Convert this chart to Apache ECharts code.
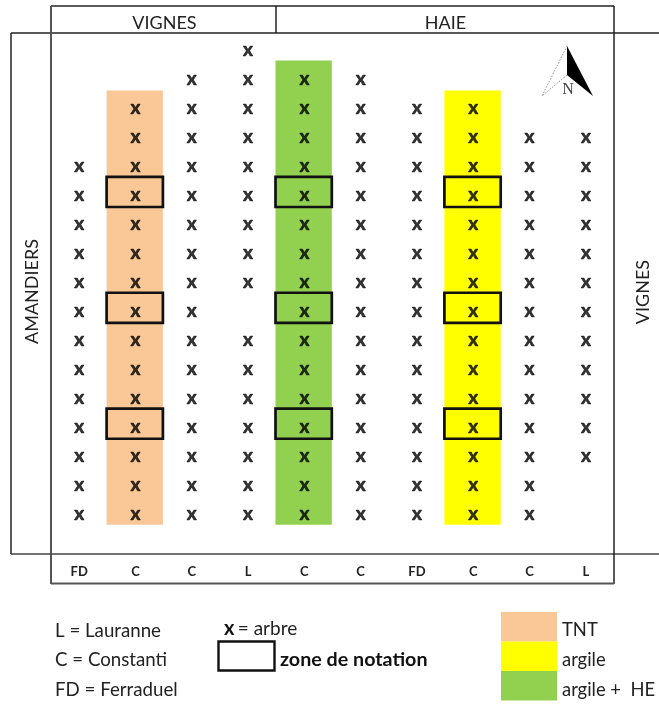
<!DOCTYPE html>
<html><head><meta charset="utf-8">
<style>html,body{margin:0;padding:0;background:#fff}#c{width:659px;height:704px}</style>
<script src="https://cdn.jsdelivr.net/npm/echarts@6/dist/echarts.min.js"></script>
</head><body><div id="c"></div>
<script>
const varieties = ['FD','C','C','L','C','C','FD','C','C','L'];
const treeRows = [
  [4,5,6,7,8,9,10,11,12,13,14,15,16],
  [2,3,4,5,6,7,8,9,10,11,12,13,14,15,16],
  [1,2,3,4,5,6,7,8,9,10,11,12,13,14,15,16],
  [0,1,2,3,4,5,6,7,8,10,11,12,13,14,15,16],
  [1,2,3,4,5,6,7,8,9,10,11,12,13,14,15,16],
  [1,2,3,4,5,6,7,8,9,10,11,12,13,14,15,16],
  [2,3,4,5,6,7,8,9,10,11,12,13,14,15,16],
  [2,3,4,5,6,7,8,9,10,11,12,13,14,15,16],
  [3,4,5,6,7,8,9,10,11,12,13,14,15,16],
  [3,4,5,6,7,8,9,10,11,12,13,14]
];
// treatment bands: column, first row edge, last row edge
const treatmentColumns = [1,4,7];
const treatmentStart = [1.33,0.29,1.33];
const treatmentEnd = [16.32,16.32,16.32];
const treatmentColors = ['#FAC896','#92D050','#FFFF00'];
const zoneRows = [5,9,13];
const sideNames = ['VIGNES','HAIE'];
const legendVarieties = ['L = Lauranne','C = Constanti','FD = Ferraduel'];
const legendTreatments = ['TNT','argile','argile +  HE'];
const legendColors = ['#FAC896','#FFFF00','#92D050'];

const font = 'Lato';
const treeData = [];
treeRows.forEach((rows,c)=>rows.forEach(r=>treeData.push([c,r])));
const bandData = treatmentColumns.map((c,i)=>[c,treatmentStart[i],treatmentEnd[i],treatmentColors[i]]);
const zoneData = [];
treatmentColumns.forEach(c=>zoneRows.forEach(r=>zoneData.push([c,r-0.69,r+0.35])));

const rectFor=(api)=>{
  const a=api.coord([api.value(0),api.value(1)]), b=api.coord([api.value(0),api.value(2)]);
  const w=api.size([1,0])[0];
  return {x:a[0]-w/2-0.7,y:a[1],width:w,height:b[1]-a[1]};
};
const line=(x1,y1,x2,y2,stroke,lw)=>({type:'line',silent:true,z:20,shape:{x1,y1,x2,y2},style:{stroke:stroke||'#222',lineWidth:lw||1.5}});
const text=(x,y,t,o)=>({type:'text',silent:true,z:21,x,y,rotation:(o&&o.rot)||0,style:Object.assign({text:t,fontFamily:font,fontSize:18,fill:'#222',align:'left',verticalAlign:'middle'},o&&o.style)});
const g=[
  line(51,6,614,6), line(276,6,276,33), line(11,33,659,33),
  line(11,33,11,554), line(11,554,659,554,'#444'),
  line(51,6,51,584,'#555',2), line(614,6,614,584), line(51,583.5,614,583.5,'#555',2),
  text(164.5,23,sideNames[0],{style:{align:'center'}}),
  text(445.5,23,sideNames[1],{style:{align:'center'}}),
  text(32,291.5,'AMANDIERS',{rot:Math.PI/2,style:{align:'center'}}),
  text(643,292,'VIGNES',{rot:Math.PI/2,style:{align:'center'}}),
  {type:'polygon',silent:true,z:20,shape:{points:[[567,46],[593,96],[567,75]]},style:{fill:'#000'}},
  {type:'polyline',silent:true,z:20,shape:{points:[[567,46],[542,96],[567,75]]},style:{stroke:'#777',fill:'none',lineWidth:0.8,lineDash:[1.5,1.5]}},
  {type:'text',silent:true,z:22,x:568,y:90,style:{text:'N',fontFamily:'Liberation Serif',fontSize:16,fill:'#444',align:'center',verticalAlign:'middle'}}
];
legendVarieties.forEach((t,i)=>g.push(text(55,[631,660,690][i],t,{style:{fontSize:18.7}})));
g.push({type:'text',silent:true,z:21,x:224,y:629,style:{rich:{b:{fontFamily:font,fontSize:20,fontWeight:'bold',fill:'#111'},n:{fontFamily:font,fontSize:19,fill:'#222'}},text:'{b|x} {n|= arbre}',verticalAlign:'middle'}});
g.push({type:'rect',silent:true,z:20,shape:{x:218.5,y:641.5,width:56,height:29},style:{fill:'#fff',stroke:'#111',lineWidth:2.4}});
g.push(text(280,660,'zone de notation',{style:{fontWeight:'bold',fontSize:19.7,fill:'#111'}}));
legendTreatments.forEach((t,i)=>{
  g.push({type:'rect',silent:true,z:20,shape:{x:501,y:612+i*29.5,width:56,height:29.5},style:{fill:legendColors[i]}});
  g.push(text(562,[630,660,690][i],t,{style:{fontSize:18.4}}));
});

const chart=echarts.init(document.getElementById('c'),null,{renderer:'canvas'});
chart.setOption({
  animation:false,
  backgroundColor:'#fff',
  grid:{left:51,top:33,width:563,height:521,containLabel:false},
  xAxis:{type:'category',data:varieties,position:'bottom',boundaryGap:true,
    axisLine:{show:false},axisTick:{show:false},splitLine:{show:false},
    axisLabel:{interval:0,margin:11,fontFamily:font,fontSize:13,fontWeight:'bold',color:'#222'}},
  yAxis:{type:'value',inverse:true,min:-0.656,max:17.328,show:false,splitLine:{show:false}},
  graphic:g,
  series:[
    {type:'custom',name:'bands',z:1,silent:true,coordinateSystem:'cartesian2d',encode:{x:0,y:[1,2]},data:bandData,
      renderItem:(p,api)=>({type:'rect',shape:rectFor(api),style:{fill:bandData[p.dataIndex][3]}})},
    {type:'scatter',name:'arbre',z:3,silent:true,symbolSize:0,data:treeData,
      label:{show:true,position:'inside',formatter:'x',fontFamily:font,fontSize:19,fontWeight:'bold',color:'#000',textBorderColor:'#000',textBorderWidth:0.6,offset:[0,-2]}},
    {type:'custom',name:'zones',z:4,silent:true,coordinateSystem:'cartesian2d',encode:{x:0,y:[1,2]},data:zoneData,
      renderItem:(p,api)=>({type:'rect',shape:rectFor(api),style:{fill:'none',stroke:'#111',lineWidth:2.7}})}
  ]
});
</script></body></html>
